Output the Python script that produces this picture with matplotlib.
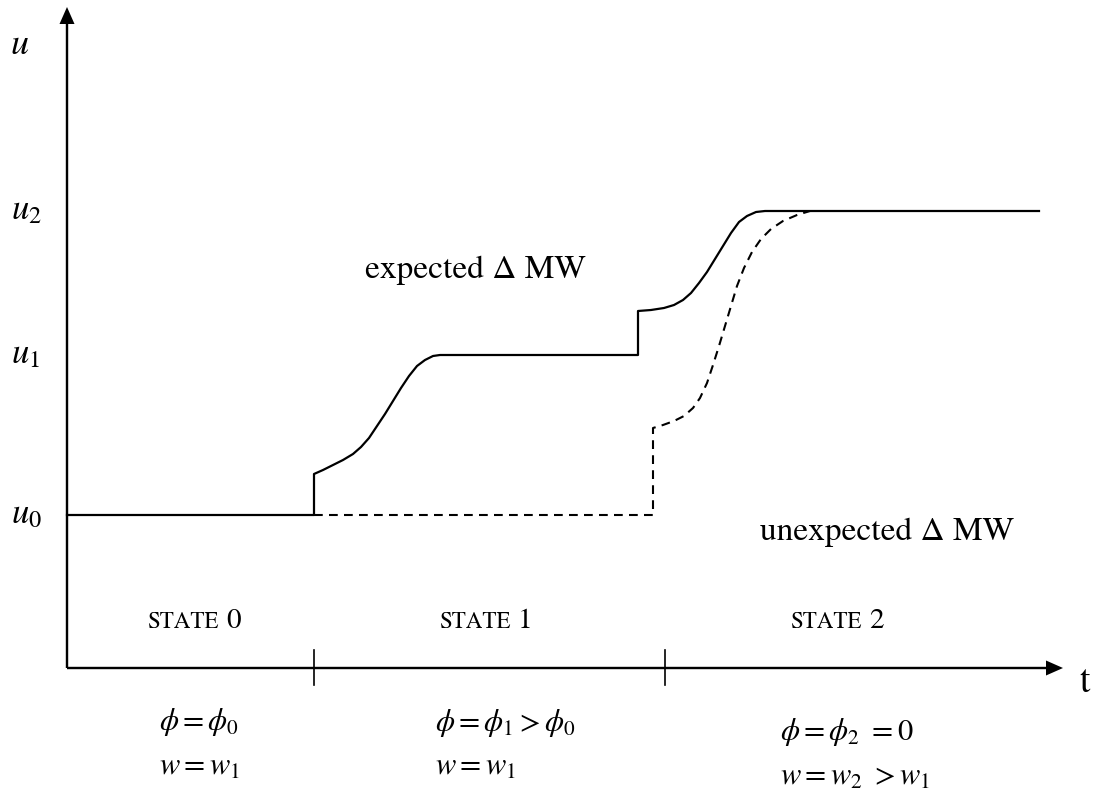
import numpy as np
import matplotlib
matplotlib.use("Agg")
import matplotlib.pyplot as plt

plt.rcParams["font.family"] = "STIXGeneral"
plt.rcParams["mathtext.fontset"] = "stix"

# ── diagram values (t = time, u = utility level) ─────────────────
U0, U1, U2 = 153, 313, 457
T_STATE = [247, 598]               # state boundaries on the t axis
T_END = 972                        # end of plotted path
T_AXIS, U_AXIS = 996, 661          # axis lengths

# expected path: jump at t=247, rise to u1, jump at t=571, rise to u2
EXP_T1 = [247, 256, 266, 276, 286, 294, 302, 310, 318, 326, 334, 342, 350, 358, 366, 373]
EXP_U1 = [194, 198, 203, 208, 214, 221, 230, 242, 254, 267, 280, 292, 302, 308, 312, 313]
EXP_T2 = [571, 584, 597, 607, 616, 624, 632, 640, 648, 656, 664, 672, 680, 689, 698]
EXP_U2 = [357, 358, 360, 363, 368, 375, 385, 396, 409, 422, 435, 446, 452, 456, 457]

# unexpected path: stays at u0 until t=586, then rises to u2
UNX_T = [586, 596, 607, 617, 626, 633, 640, 646, 652, 658, 664, 670, 677, 685, 694, 704, 716, 730, 743]
UNX_U = [240, 243, 247, 252, 260, 270, 285, 303, 322, 342, 362, 382, 400, 416, 429, 439, 447, 453, 457]

LEVEL_LABELS = [r"$u_0$", r"$u_1$", r"$u_2$"]
STATE_NAMES  = ["0", "1", "2"]
STATE_CENTER = [133, 425, 776]
PHI_LABELS = [r"$\phi = \phi_0$", r"$\phi = \phi_1 > \phi_0$",
              r"$\phi = \phi_2\ = 0$"]
W_LABELS   = [r"$w = w_1$", r"$w = w_1$", r"$w = w_2\ > w_1$"]
COND_T     = [92, 368, 713]
PHI_U      = [-54, -55, -64]
W_U        = [-100, -100, -110]


def draw():
    fig = plt.figure(figsize=(11, 7.96), dpi=100)
    ax = fig.add_axes([0, 0, 1, 1])
    ax.set_xlim(-67, 1033)
    ax.set_ylim(-128, 668)
    ax.axis("off")

    # axes with arrow heads
    ax.arrow(0, 0, T_AXIS, 0, width=2.4, head_width=15, head_length=17,
             length_includes_head=True, fc="black", ec="none")
    ax.arrow(0, 0, 0, U_AXIS, width=2.4, head_width=15, head_length=17,
             length_includes_head=True, fc="black", ec="none")
    for t in T_STATE:
        ax.plot([t, t], [-17, 18], color="black", lw=1.2)

    # expected path (solid)
    exp_t = np.concatenate([[0, EXP_T1[0]], EXP_T1, [EXP_T2[0]], EXP_T2, [T_END]])
    exp_u = np.concatenate([[U0, U0], EXP_U1, [U1], EXP_U2, [U2]])
    ax.plot(exp_t, exp_u, color="black", lw=1.6, solid_joinstyle="round")

    # unexpected path (dashed)
    unx_t = np.concatenate([[EXP_T1[0], UNX_T[0]], UNX_T])
    unx_u = np.concatenate([[U0, U0], UNX_U])
    ax.plot(unx_t, unx_u, color="black", lw=1.5, dashes=(4.2, 3.0))

    # labels
    ax.text(-47, 623, r"$u$", fontsize=26, ha="center", va="center")
    for lab, lev in zip(LEVEL_LABELS, [U0, U1, U2]):
        ax.text(-56, lev - 8, lab, fontsize=25, ha="left", va="baseline")
    ax.text(1018, -15, "t", fontsize=27, ha="center", va="center")

    ax.text(298, 398, "expected \u0394 MW", fontsize=24, ha="left", va="center")
    ax.text(693, 136, "unexpected \u0394 MW", fontsize=24, ha="left", va="center")

    for name, tc in zip(STATE_NAMES, STATE_CENTER):
        ax.text(tc + 19, 40, "STATE", fontsize=16.5, ha="right", va="baseline")
        ax.text(tc + 26, 40, name, fontsize=21, ha="left", va="baseline")

    for phi, w, tc, pu, wu in zip(PHI_LABELS, W_LABELS, COND_T, PHI_U, W_U):
        ax.text(tc, pu, phi, fontsize=22, ha="left", va="center")
        ax.text(tc, wu, w, fontsize=22, ha="left", va="center")

    fig.savefig("out.png", dpi=100, facecolor="white")


if __name__ == "__main__":
    draw()
